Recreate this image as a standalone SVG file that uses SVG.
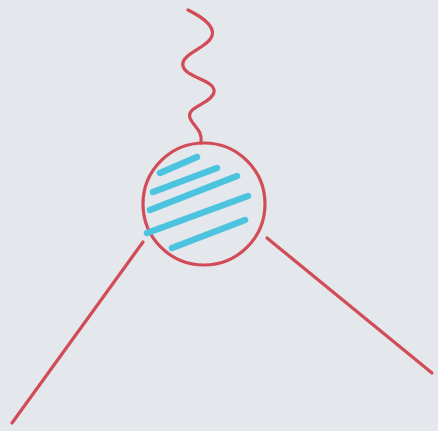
<svg xmlns="http://www.w3.org/2000/svg" width="438" height="431" viewBox="0 0 438 431">
<style>
.red{fill:none;stroke:#d24c58;stroke-width:3.2;stroke-linecap:round;stroke-linejoin:round}
.blue{fill:none;stroke:#4cc4df;stroke-width:6.5;stroke-linecap:round}
</style>
<rect width="438" height="431" fill="#e4e7eb"/>
<g id="connectors">
<path class="red" d="M188,10 C196,14 216,24 212,36 C208,48 180,54 183,66 C186,78 216,80 214,92 C212,104 186,106 190,118 C193,126 203,130 201,143"/>
<path class="red" d="M143,242 L12,423"/>
<path class="red" d="M267,238 L432,373"/>
</g>
<g id="blob">
<circle class="red" cx="204" cy="204" r="61"/>
<g>
<path class="blue" d="M160,173 L197,157"/>
<path class="blue" d="M153,192 L217,168"/>
<path class="blue" d="M150,210 L237,176"/>
<path class="blue" d="M147,233 L248,196"/>
<path class="blue" d="M172,248 L245,220"/>
</g>
</g>
</svg>
